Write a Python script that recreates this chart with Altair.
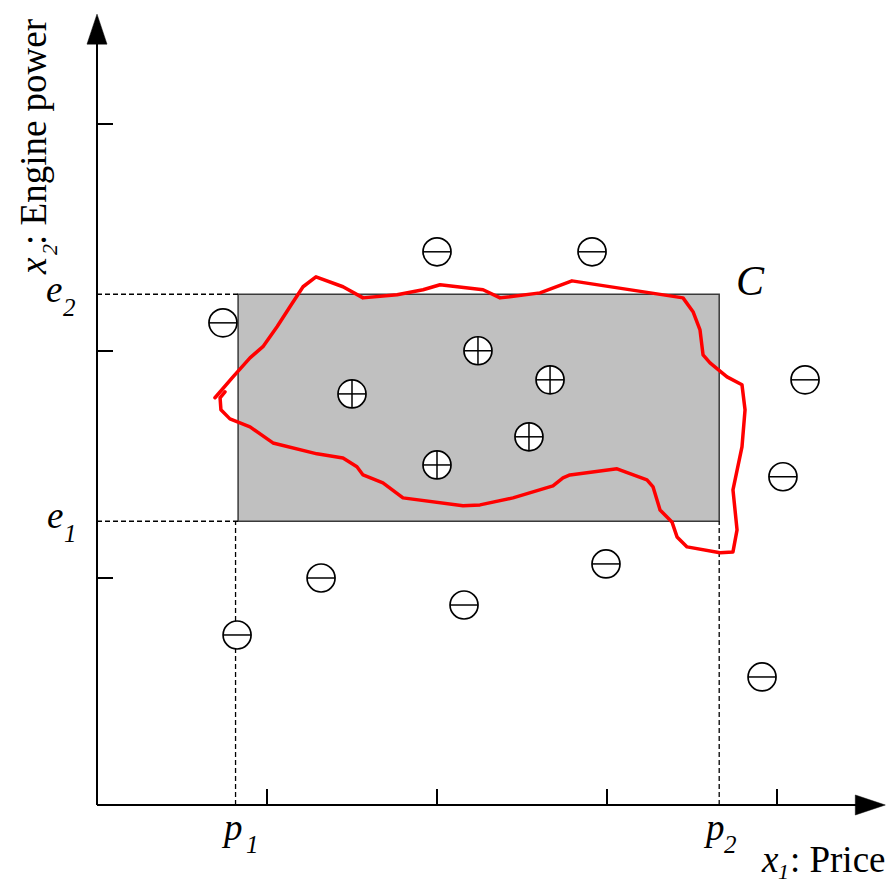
import altair as alt
import pandas as pd

# ---------------- data (x: price units, y: engine-power units) ----------------
X_MAX = 790 / 170
Y_MAX = 792 / 227

x_ticks = [1, 2, 3, 4]
y_ticks = [1, 2, 3]

p1, p2 = 0.83, 3.66          # price interval of concept C
p1_guide = 0.815             # dashed guide below p1
e1, e2 = 1.25, 2.25          # engine power interval of concept C

neg_x = [2.0, 2.912, 0.741, 4.165, 4.035, 1.318, 2.994, 2.159, 0.824, 3.912]
neg_y = [2.437, 2.437, 2.124, 1.873, 1.446, 1.0, 1.062, 0.881, 0.749, 0.564]
pos_x = [2.241, 1.5, 2.665, 2.541, 2.0]
pos_y = [2.001, 1.811, 1.873, 1.622, 1.498]

curve_x = [0.694, 0.800, 0.900, 0.976, 1.059, 1.135, 1.212, 1.288, 1.447, 1.565,
           1.765, 1.918, 2.018, 2.271, 2.371, 2.606, 2.794, 3.447, 3.506, 3.547,
           3.565, 3.606, 3.706, 3.794, 3.812, 3.794, 3.741, 3.765, 3.741, 3.665,
           3.471, 3.412, 3.382, 3.312, 3.271, 3.235, 3.059, 2.782, 2.741, 2.682,
           2.447, 2.253, 2.153, 1.800, 1.682, 1.565, 1.529, 1.447, 1.294, 1.035,
           0.900, 0.782, 0.729, 0.724, 0.753]
curve_y = [1.794, 1.886, 1.970, 2.019, 2.107, 2.195, 2.283, 2.327, 2.283, 2.234,
           2.248, 2.270, 2.292, 2.270, 2.234, 2.256, 2.309, 2.234, 2.173, 2.093,
           1.983, 1.948, 1.886, 1.851, 1.741, 1.578, 1.388, 1.212, 1.115, 1.111,
           1.137, 1.181, 1.247, 1.300, 1.401, 1.432, 1.481, 1.454, 1.441, 1.406,
           1.353, 1.322, 1.318, 1.353, 1.419, 1.454, 1.490, 1.529, 1.547, 1.595,
           1.666, 1.701, 1.741, 1.794, 1.820]

# labels (text, x, y) in data units
lab_main_text = ["e", "e", "p", "p"]
lab_main_x = [-0.300, -0.294, 0.747, 3.582]
lab_main_y = [2.216, 1.220, -0.154, -0.154]
lab_sub_text = ["2", "1", "1", "2"]
lab_sub_x = [-0.200, -0.194, 0.876, 3.688]
lab_sub_y = [2.154, 1.159, -0.211, -0.211]
xtitle_var = "x"
xtitle_var_pos = (3.912, -0.295)
xtitle_sub = "1"
xtitle_sub_pos = (4.006, -0.326)
xtitle_rest = ": Price"
xtitle_rest_pos = (4.076, -0.295)
c_label = "C"
c_pos = (3.759, 2.247)
ytitle_var = "x"
ytitle_var_pos = (-0.300, 2.339)
ytitle_sub = "2"
ytitle_sub_pos = (-0.235, 2.423)
ytitle_rest = ":  Engine power"
ytitle_rest_pos = (-0.300, 2.467)

# ---------------- chart ----------------
FONT = "Liberation Serif"
xs = alt.Scale(domain=[0, X_MAX], nice=False, zero=False)
ys = alt.Scale(domain=[0, Y_MAX], nice=False, zero=False)


def X(f):
    return alt.X(f, type="quantitative", scale=xs, axis=None)


def Y(f):
    return alt.Y(f, type="quantitative", scale=ys, axis=None)


def text_layer(texts, xs_, ys_, size, italic=False, angle=None):
    kw = dict(font=FONT, fontSize=size, align="left", baseline="alphabetic",
              color="black")
    if italic:
        kw["fontStyle"] = "italic"
    if angle is not None:
        kw["angle"] = angle
    df = pd.DataFrame({"t": texts, "x": xs_, "y": ys_})
    return alt.Chart(df).mark_text(**kw).encode(x=X("x"), y=Y("y"), text="t:N")


rect_df = pd.DataFrame({"x": [p1], "x2": [p2], "y": [e1], "y2": [e2]})
rect = alt.Chart(rect_df).mark_rect(
    fill="#c0c0c0", stroke="#3a3a3a", strokeWidth=1.5
).encode(x=X("x"), x2="x2", y=Y("y"), y2="y2")

guides_df = pd.DataFrame({
    "x": [0, 0, p1_guide, p2], "x2": [p1, p1, p1_guide, p2],
    "y": [e2, e1, 0, 0], "y2": [e2, e1, e1, e1],
})
guides = alt.Chart(guides_df).mark_rule(
    color="black", strokeWidth=1.3, strokeDash=[5, 3]
).encode(x=X("x"), x2="x2", y=Y("y"), y2="y2")

X_TIP = X_MAX - 0.01
Y_TIP = Y_MAX - 0.005
axes_df = pd.DataFrame({"x": [0, 0], "x2": [X_TIP - 0.05, 0],
                        "y": [0, 0], "y2": [0, Y_TIP - 0.05]})
axes = alt.Chart(axes_df).mark_rule(color="black", strokeWidth=2).encode(
    x=X("x"), x2="x2", y=Y("y"), y2="y2")

TLX = 16 / 170
TLY = 16 / 227
ticks_df = pd.DataFrame({
    "x": x_ticks + [0] * len(y_ticks),
    "x2": x_ticks + [TLX] * len(y_ticks),
    "y": [0] * len(x_ticks) + y_ticks,
    "y2": [TLY] * len(x_ticks) + y_ticks,
})
ticks = alt.Chart(ticks_df).mark_rule(color="black", strokeWidth=2).encode(
    x=X("x"), x2="x2", y=Y("y"), y2="y2")

arr_r = alt.Chart(pd.DataFrame({"x": [X_TIP], "y": [0]})).mark_point(
    shape="M0,0L-2,-0.667L-2,0.667Z", size=900, filled=True, fill="black",
    stroke="black", strokeWidth=0.5, opacity=1
).encode(x=X("x"), y=Y("y"))
arr_u = alt.Chart(pd.DataFrame({"x": [0], "y": [Y_TIP]})).mark_point(
    shape="M0,0L-0.667,2L0.667,2Z", size=900, filled=True, fill="black",
    stroke="black", strokeWidth=0.5, opacity=1
).encode(x=X("x"), y=Y("y"))

pts_df = pd.DataFrame({
    "x": neg_x + pos_x, "y": neg_y + pos_y,
    "kind": ["-"] * len(neg_x) + ["+"] * len(pos_x),
})
pos_df = pd.DataFrame({"x": pos_x, "y": pos_y})
CS = 784
circles = alt.Chart(pts_df).mark_point(
    shape="circle", size=CS, filled=True, fill="white", stroke="black",
    strokeWidth=1.7, opacity=1
).encode(x=X("x"), y=Y("y"))
hbar = alt.Chart(pts_df).mark_point(
    shape="M-1,0L1,0", size=CS, filled=False, stroke="black",
    strokeWidth=1.5, opacity=1
).encode(x=X("x"), y=Y("y"))
vbar = alt.Chart(pos_df).mark_point(
    shape="M0,-1L0,1", size=CS, filled=False, stroke="black",
    strokeWidth=1.5, opacity=1
).encode(x=X("x"), y=Y("y"))

curve_df = pd.DataFrame({"x": curve_x, "y": curve_y,
                         "i": list(range(len(curve_x)))})
curve = alt.Chart(curve_df).mark_line(
    color="#ff0000", strokeWidth=3.5, strokeJoin="round", strokeCap="round"
).encode(x=X("x"), y=Y("y"), order=alt.Order("i:Q"))

main_lab = text_layer(lab_main_text, lab_main_x, lab_main_y, 37, italic=True)
sub_lab = text_layer(lab_sub_text, lab_sub_x, lab_sub_y, 25, italic=True)
c_lab = text_layer([c_label], [c_pos[0]], [c_pos[1]], 42, italic=True)

xt_var = text_layer([xtitle_var], [xtitle_var_pos[0]], [xtitle_var_pos[1]], 37, italic=True)
xt_sub = text_layer([xtitle_sub], [xtitle_sub_pos[0]], [xtitle_sub_pos[1]], 22, italic=True)
xt_rest = text_layer([xtitle_rest], [xtitle_rest_pos[0]], [xtitle_rest_pos[1]], 37)

yt_var = text_layer([ytitle_var], [ytitle_var_pos[0]], [ytitle_var_pos[1]], 37,
                    italic=True, angle=270)
yt_sub = text_layer([ytitle_sub], [ytitle_sub_pos[0]], [ytitle_sub_pos[1]], 22,
                    italic=True, angle=270)
yt_rest = text_layer([ytitle_rest], [ytitle_rest_pos[0]], [ytitle_rest_pos[1]], 37,
                     angle=270)

chart = alt.layer(
    rect, guides, axes, ticks, arr_r, arr_u, circles, hbar, vbar, curve,
    main_lab, sub_lab, c_lab, xt_var, xt_sub, xt_rest, yt_var, yt_sub, yt_rest
).properties(
    width=790, height=792,
    padding={"left": 89, "top": 5, "right": 0, "bottom": 80},
    autosize=alt.AutoSizeParams(type="none"),
    background="white",
).configure_view(stroke=None)

chart.save("out.html", embed_options={"renderer": "svg", "actions": False})
